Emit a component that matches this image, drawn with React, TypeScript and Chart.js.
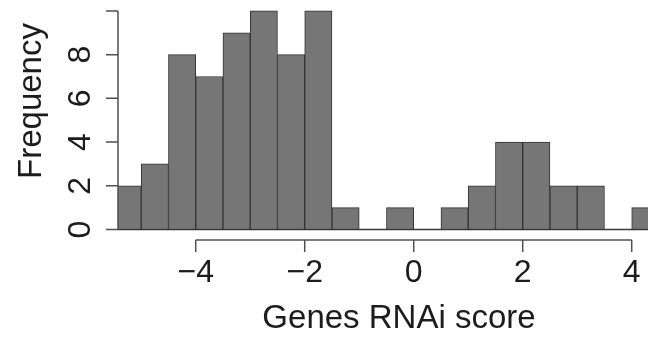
import React, { useEffect, useRef } from 'react';
import { Chart, registerables } from 'chart.js';

Chart.register(...registerables);

// Histogram bins (width 0.5) and their frequencies
const binEdges = [-5.5, -5, -4.5, -4, -3.5, -3, -2.5, -2, -1.5, -1, -0.5, 0, 0.5, 1, 1.5, 2, 2.5, 3, 3.5, 4, 4.5];
const counts = [2, 3, 8, 7, 9, 10, 8, 10, 1, 0, 1, 0, 1, 2, 4, 4, 2, 2, 0, 1];

// Axis ticks
const xTickValues = [-4, -2, 0, 2, 4];
const xTickLabels = ['\u22124', '\u22122', '0', '2', '4'];
const yTickValues = [0, 2, 4, 6, 8, 10];
const yTickLabels = ['0', '2', '4', '6', '8', ''];

const xTitle = 'Genes RNAi score';
const yTitle = 'Frequency';

const FONT = '"Liberation Sans", Arial, Helvetica, sans-serif';

const rAxes = {
  id: 'rAxes',
  afterDraw(chart: any) {
    const { ctx, chartArea } = chart;
    const x = chart.scales.x;
    const y = chart.scales.y;
    ctx.save();
    ctx.strokeStyle = '#505050';
    ctx.lineWidth = 1.5;
    ctx.fillStyle = '#1c1c1c';
    ctx.lineCap = 'butt';

    // Y axis (R style: spans from first to last tick)
    const yl = chartArea.left;
    ctx.beginPath();
    ctx.moveTo(yl, y.getPixelForValue(yTickValues[0]));
    ctx.lineTo(yl, y.getPixelForValue(yTickValues[yTickValues.length - 1]));
    yTickValues.forEach((v) => {
      const p = y.getPixelForValue(v);
      ctx.moveTo(yl, p);
      ctx.lineTo(yl - 12, p);
    });
    ctx.stroke();

    ctx.font = '32px ' + FONT;
    ctx.textAlign = 'center';
    ctx.textBaseline = 'alphabetic';
    yTickValues.forEach((v, i) => {
      const lab = yTickLabels[i];
      if (!lab) return;
      const p = y.getPixelForValue(v);
      ctx.save();
      ctx.translate(yl - 28, p);
      ctx.rotate(-Math.PI / 2);
      ctx.fillText(lab, 0, 0);
      ctx.restore();
    });

    // X axis (R style)
    const xb = chartArea.bottom;
    ctx.beginPath();
    ctx.moveTo(x.getPixelForValue(xTickValues[0]), xb);
    ctx.lineTo(x.getPixelForValue(xTickValues[xTickValues.length - 1]), xb);
    xTickValues.forEach((v) => {
      const p = x.getPixelForValue(v);
      ctx.moveTo(p, xb);
      ctx.lineTo(p, xb + 12);
    });
    ctx.stroke();

    xTickValues.forEach((v, i) => {
      const p = x.getPixelForValue(v);
      ctx.fillText(xTickLabels[i], p, xb + 42);
    });

    // Axis titles
    ctx.font = '33px ' + FONT;
    ctx.fillText(xTitle, 399, 328);
    ctx.save();
    ctx.translate(41, 101);
    ctx.rotate(-Math.PI / 2);
    ctx.fillText(yTitle, 0, 0);
    ctx.restore();

    ctx.restore();
  },
};

export default function App() {
  const ref = useRef<HTMLCanvasElement>(null);

  useEffect(() => {
    const barData = counts.map((c, i) => ({ x: (binEdges[i] + binEdges[i + 1]) / 2, y: c }));
    const baseData = [
      { x: binEdges[0], y: 0 },
      { x: binEdges[binEdges.length - 1], y: 0 },
    ];
    const chart = new Chart(ref.current as HTMLCanvasElement, {
      type: 'bar',
      data: {
        datasets: [
          {
            type: 'bar',
            data: barData as any,
            backgroundColor: '#767676',
            borderColor: '#333333',
            borderWidth: 1,
            borderSkipped: false,
            barPercentage: 1,
            categoryPercentage: 1,
            clip: 0,
          } as any,
          {
            type: 'line',
            data: baseData as any,
            borderColor: '#3a3a3a',
            borderWidth: 1.5,
            pointRadius: 0,
            clip: 0,
          } as any,
        ],
      },
      options: {
        responsive: false,
        devicePixelRatio: 1,
        animation: false,
        events: [],
        layout: { padding: { left: 118, right: 0, top: 0, bottom: 97 } },
        plugins: { legend: { display: false }, tooltip: { enabled: false } },
        scales: {
          x: {
            type: 'linear',
            display: false,
            min: -5.426,
            max: 4.299,
            offset: false,
            afterBuildTicks: (scale: any) => {
              scale.ticks = xTickValues.map((v) => ({ value: v }));
            },
          },
          y: {
            type: 'linear',
            display: false,
            min: -0.48,
            max: 10.5,
          },
        },
      } as any,
      plugins: [rAxes],
    });
    return () => chart.destroy();
  }, []);

  return (
    <div style={{ position: 'fixed', left: 0, top: 0, width: 648, height: 337, background: '#ffffff' }}>
      <canvas ref={ref} width={648} height={337} style={{ display: 'block', width: 648, height: 337 }} />
    </div>
  );
}
